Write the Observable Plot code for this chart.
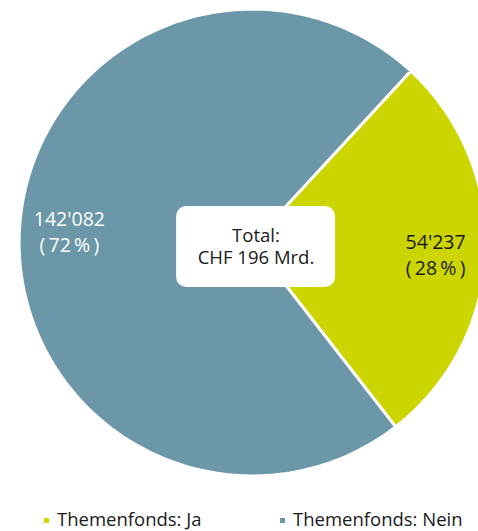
<!DOCTYPE html>
<html><head><meta charset="utf-8">
<script src="https://cdn.jsdelivr.net/npm/d3@7"></script>
<script src="https://cdn.jsdelivr.net/npm/@observablehq/plot@0.6"></script>
<style>
body{margin:0;background:#fff;font-family:"Open Sans",sans-serif;}
#wrap{width:478px;height:531px;position:relative;overflow:hidden;}
.legend{position:absolute;top:508px;left:0;width:478px;height:22px;font-size:18.5px;line-height:22px;color:#1a1a1a;}
.item{position:absolute;top:0;display:flex;align-items:center;gap:8px;white-space:nowrap;}
.sw{width:5px;height:5px;display:inline-block;margin-top:2px;}
</style></head>
<body><div id="wrap"></div>
<script>
const categories = ["Themenfonds: Ja", "Themenfonds: Nein"];
const values = [54237, 142082];
const valueLabels = ["54'237", "142'082"];
const pctLabels = ["(\u200928\u2009%\u2009)", "(\u200972\u2009%\u2009)"];
const colors = ["#cdd500", "#6b97a9"];
const totalLines = ["Total:", "CHF 196 Mrd."];

const start = 42.7 * Math.PI / 180;
const arcs = d3.pie().sort(null).startAngle(start).endAngle(start + 2*Math.PI)(values);
const pts = [];
const labels = [];
const labelShift = [0.0, 0.032];
arcs.forEach((a, i) => {
  pts.push({cat: categories[i], x: 0, y: 0});
  const n = 200;
  for (let k = 0; k <= n; k++) {
    const t = a.startAngle + (a.endAngle - a.startAngle) * k / n;
    pts.push({cat: categories[i], x: Math.sin(t) * 1.006, y: Math.cos(t) * 1.006});
  }
  pts.push({cat: categories[i], x: 0, y: 0});
  const m = (a.startAngle + a.endAngle) / 2;
  labels.push({cat: categories[i], text: valueLabels[i] + "\n" + pctLabels[i], x: Math.sin(m) * 0.79, y: Math.cos(m) * 0.79 - 0.015 + labelShift[i]});
});

const plot = Plot.plot({
  width: 478, height: 500,
  margin: 0,
  x: {domain: [-1, 1], range: [20, 484], axis: null},
  y: {domain: [-1, 1], range: [474, 10], axis: null},
  color: {domain: categories, range: colors},
  style: {fontFamily: "'Open Sans', sans-serif"},
  marks: [
    Plot.line(pts, {x: "x", y: "y", z: "cat", fill: "cat", stroke: "white", strokeWidth: 3, strokeLinejoin: "miter", curve: "linear"}),
    Plot.rect([0], {x1: () => -0.327, x2: () => 0.358, y1: () => -0.194, y2: () => 0.155, fill: "white", rx: 10}),
    Plot.text(totalLines, {x: () => 0.015, y: (d, i) => 0.028 - i * 0.096, text: d => d, fontSize: 18.5, fill: "#1a1a1a"}),
    Plot.text(labels, {x: "x", y: "y", text: "text", fontSize: 19.5, lineHeight: 1.3, fill: d => d.cat === categories[0] ? "#1a1a1a" : "white"})
  ]
});
const wrap = document.getElementById("wrap");
wrap.appendChild(plot);
const lg = document.createElement("div");
lg.className = "legend";
const lefts = [44, 280];
categories.forEach((c, i) => {
  const it = document.createElement("div");
  it.className = "item";
  it.style.left = lefts[i] + "px";
  it.innerHTML = `<span class="sw" style="background:${colors[i]}"></span><span>${c}</span>`;
  lg.appendChild(it);
});
wrap.appendChild(lg);
</script></body></html>
